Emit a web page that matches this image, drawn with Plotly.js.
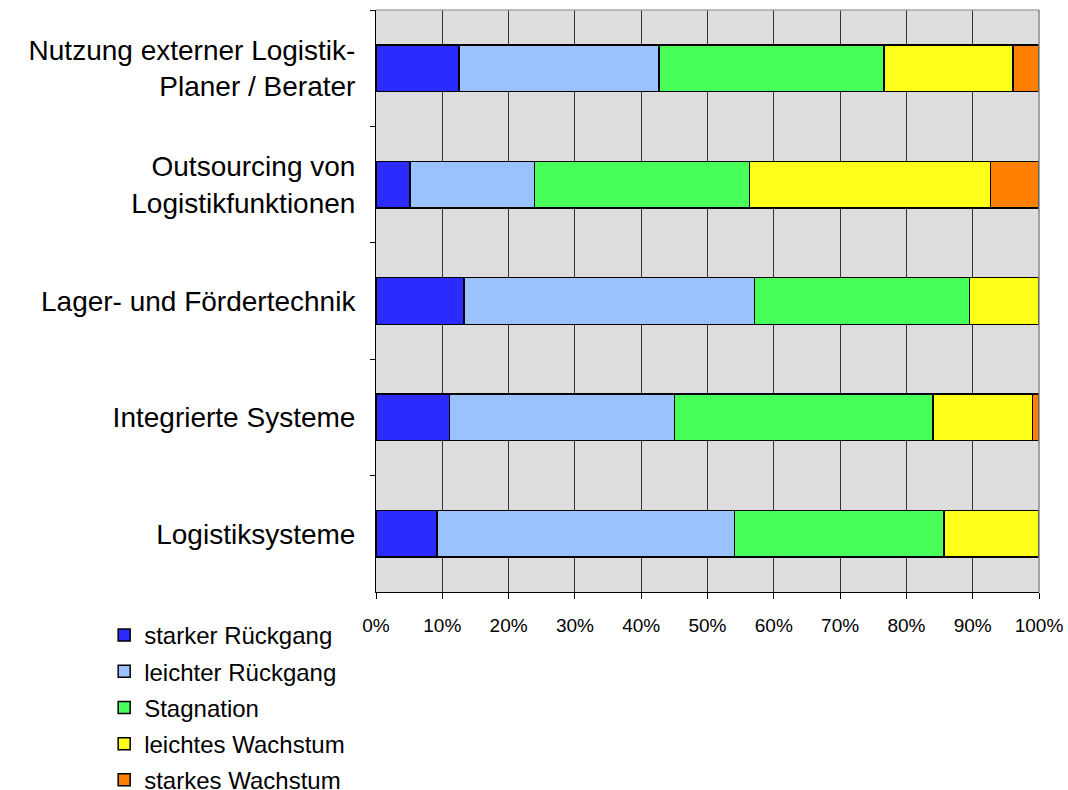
<!DOCTYPE html>
<html>
<head>
<meta charset="utf-8">
<script src="https://cdn.plot.ly/plotly-3.0.1.min.js"></script>
<style>html,body{margin:0;padding:0;background:#fff;}#chart{width:1068px;height:790px;}</style>
</head>
<body>
<div id="chart"></div>
<script>
// Categories, top to bottom as in the reference
const categories = [
  'Nutzung externer Logistik-<br>Planer / Berater',
  'Outsourcing von<br>Logistikfunktionen',
  'Lager- und Fördertechnik',
  'Integrierte Systeme',
  'Logistiksysteme'
];
const seriesNames = ['starker Rückgang', 'leichter Rückgang', 'Stagnation', 'leichtes Wachstum', 'starkes Wachstum'];
const starkerRueckgang  = [12.5,  5.1, 13.3, 11.1,  9.2];
const leichterRueckgang = [30.2, 18.8, 43.8, 33.9, 44.9];
const stagnation        = [33.9, 32.4, 32.4, 39.0, 31.6];
const leichtesWachstum  = [19.5, 36.4, 10.5, 15.0, 14.3];
const starkesWachstum   = [ 3.9,  7.3,  0.0,  1.0,  0.0];
const xTickVals = [0,10,20,30,40,50,60,70,80,90,100];
const xTickText = ['0%','10%','20%','30%','40%','50%','60%','70%','80%','90%','100%'];

const seriesValues = [starkerRueckgang, leichterRueckgang, stagnation, leichtesWachstum, starkesWachstum];
const colors = ['#2b2bff', '#99c2ff', '#49ff5a', '#ffff1a', '#ff8000'];
const FONT = '"Liberation Sans", Arial, sans-serif';

const traces = seriesNames.map((name, i) => ({
  type: 'bar',
  orientation: 'h',
  name: name,
  legendgroup: 'g' + i,
  y: categories,
  x: seriesValues[i],
  width: 0.4,
  marker: {color: colors[i], line: {color: '#000000', width: 1.5}},
  hoverinfo: 'none'
}));

const layout = {
  width: 1068,
  height: 790,
  barmode: 'stack',
  paper_bgcolor: '#ffffff',
  plot_bgcolor: '#dddddd',
  margin: {l: 376, r: 29, t: 10, b: 198, pad: 0, autoexpand: false},
  font: {family: FONT, color: '#000000'},
  xaxis: {
    range: [0, 100],
    tickvals: xTickVals,
    ticktext: xTickText,
    showgrid: true,
    gridcolor: '#333333',
    gridwidth: 1,
    zeroline: false,
    showline: true,
    linecolor: '#000000',
    linewidth: 1,
    ticks: 'outside',
    ticklen: 6,
    tickcolor: '#000000',
    ticklabelstandoff: 10,
    tickfont: {family: FONT, size: 19, color: '#000000'},
    automargin: false,
    fixedrange: true
  },
  yaxis: {
    autorange: 'reversed',
    showgrid: false,
    zeroline: false,
    showline: true,
    linecolor: '#000000',
    linewidth: 1,
    ticks: 'outside',
    tickson: 'boundaries',
    ticklen: 5,
    tickcolor: '#000000',
    ticklabelstandoff: 14,
    tickfont: {family: FONT, size: 28, color: '#000000'},
    automargin: false,
    fixedrange: true
  },
  showlegend: true,
  legend: {
    x: -0.41,
    xanchor: 'left',
    y: -0.036,
    yanchor: 'top',
    traceorder: 'grouped',
    tracegroupgap: 2,
    font: {family: FONT, size: 24, color: '#000000'},
    bgcolor: 'rgba(0,0,0,0)'
  },
  shapes: [
    {type: 'line', xref: 'paper', yref: 'paper', x0: 0, x1: 1, y0: 1, y1: 1, line: {color: '#a8a8a8', width: 1.5}},
    {type: 'line', xref: 'paper', yref: 'paper', x0: 1, x1: 1, y0: 0, y1: 1, line: {color: '#888888', width: 1.5}}
  ]
};

Plotly.newPlot('chart', traces, layout, {displayModeBar: false, staticPlot: true});
</script>
</body>
</html>
